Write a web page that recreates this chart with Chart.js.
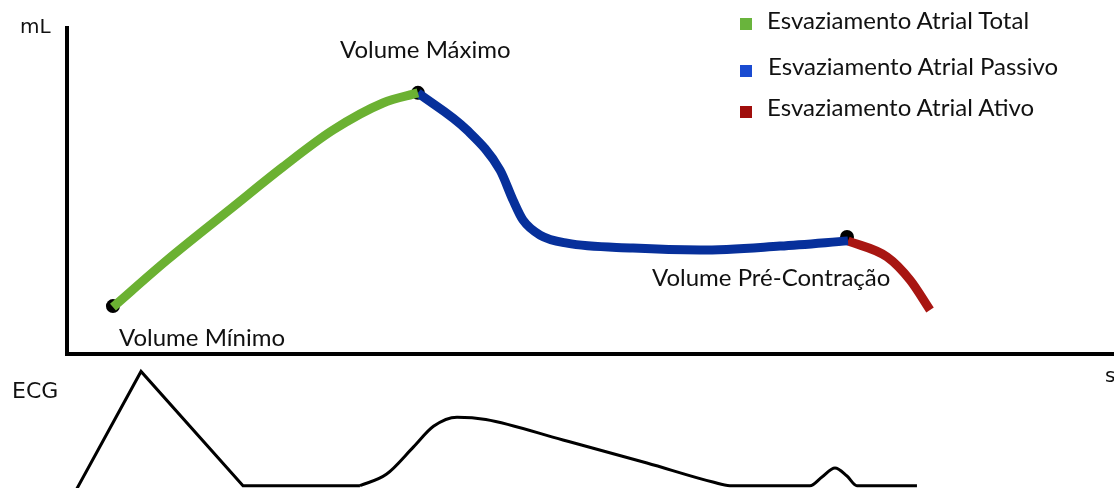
<!DOCTYPE html>
<html lang="pt">
<head>
<meta charset="utf-8">
<title>Volume atrial e ECG</title>
<script src="https://cdn.jsdelivr.net/npm/chart.js@4/dist/chart.umd.min.js"></script>
<style>
  html, body { margin: 0; padding: 0; background: #fff; }
  #wrap { position: relative; width: 1114px; height: 488px; overflow: hidden; }
  #volChart { position: absolute; left: 0; top: 0; }
  #ecgChart { position: absolute; left: 0; top: 360px; }
  .lbl { position: absolute; white-space: nowrap; line-height: 1; color: #111; }
  .gill { font-family: Lato, "Open Sans", sans-serif; font-size: 24px; }
  .axis { font-family: "DejaVu Sans", sans-serif; font-size: 20px; }
  .sw { position: absolute; width: 12px; height: 12px; }
</style>
</head>
<body>
<div id="wrap">
  <canvas id="volChart" width="1114" height="360"></canvas>
  <canvas id="ecgChart" width="1114" height="128"></canvas>
</div>
<script>
(function () {
  "use strict";

  /* ── Data: time in ms (0–1000), volume in mL (0–100), ECG in mV ── */
  const totalX   = [43.9, 95.5, 158.5, 206.3, 254.1, 301.8, 335.2];
  const totalY   = [14.4, 28.8, 45.1, 57.4, 68.7, 77.0, 80.1];

  const passivoX = [335.2, 382.0, 413.6, 426.0, 435.5, 451.8, 477.6, 540.6, 604.6, 681.0, 745.9];
  const passivoY = [80.1, 68.7, 56.4, 47.2, 41.1, 36.5, 34.0, 32.5, 31.9, 33.1, 34.7];

  const ativoX   = [745.9, 783.2, 805.2, 824.3];
  const ativoY   = [34.7, 29.8, 22.7, 13.5];

  const markX    = [43.9, 335.2, 745.0];
  const markY    = [14.7, 80.1, 35.9];

  const qrsX     = [8.6, 70.7, 168.1, 279.8];
  const qrsY     = [-0.04, 1.0, 0, 0];

  const wavesX   = [279.8, 305.0, 331.0, 350.0, 372.5, 400.0, 473.7, 553.9, 616.9, 633.2, 709.6, 721.1, 733.5, 745.0, 754.5, 811.8];
  const wavesY   = [0, 0.10, 0.34, 0.52, 0.60, 0.58, 0.40, 0.199, 0.032, 0, 0, 0.076, 0.155, 0.085, 0, 0];

  const seriesNames  = ["Esvaziamento Atrial Total", "Esvaziamento Atrial Passivo", "Esvaziamento Atrial Ativo"];
  const markerNames  = ["Volume Mínimo", "Volume Máximo", "Volume Pré-Contração"];

  /* ── Colors ─────────────────────────────────────────────────── */
  const green = "#6bb132";
  const blue  = "#07309b";
  const red   = "#a81612";
  const legendColors = ["#69b43c", "#1a4bd1", "#a00e0c"];

  const pts = (xs, ys) => xs.map((x, i) => ({ x, y: ys[i] }));

  const curve = (label, xs, ys, color) => ({
    label,
    data: pts(xs, ys),
    borderColor: color,
    backgroundColor: color,
    borderWidth: 9,
    pointRadius: 0,
    cubicInterpolationMode: "monotone",
    order: 1,
  });

  const hiddenScale = (min, max) => ({ type: "linear", display: false, min, max });

  new Chart(document.getElementById("volChart"), {
    type: "line",
    data: {
      datasets: [
        curve(seriesNames[0], totalX, totalY, green),
        curve(seriesNames[1], passivoX, passivoY, blue),
        curve(seriesNames[2], ativoX, ativoY, red),
        {
          type: "scatter",
          label: "marcos",
          data: pts(markX, markY),
          pointRadius: 7,
          pointBackgroundColor: "#000",
          pointBorderWidth: 0,
          order: 5,
        },
      ],
    },
    options: {
      responsive: false,
      animation: false,
      events: [],
      layout: { autoPadding: false, padding: { left: 67, top: 28, right: 0, bottom: 6 } },
      plugins: { legend: { display: false }, tooltip: { enabled: false } },
      scales: {
        x: {
          type: "linear", min: 0, max: 1000,
          grid: { display: false, drawTicks: false },
          ticks: { display: false },
          border: { display: true, color: "#000", width: 4 },
        },
        y: {
          type: "linear", min: 0, max: 100,
          grid: { display: false, drawTicks: false },
          ticks: { display: false },
          border: { display: true, color: "#000", width: 4 },
        },
      },
    },
  });

  const ecgLine = (xs, ys, smooth) => ({
    label: "ECG",
    data: pts(xs, ys),
    borderColor: "#000",
    borderWidth: 3,
    pointRadius: 0,
    tension: 0,
    cubicInterpolationMode: smooth ? "monotone" : "default",
    borderJoinStyle: "miter",
  });

  new Chart(document.getElementById("ecgChart"), {
    type: "line",
    data: { datasets: [ecgLine(qrsX, qrsY, false), ecgLine(wavesX, wavesY, true)] },
    options: {
      responsive: false,
      animation: false,
      events: [],
      layout: { autoPadding: false, padding: { left: 67, top: 0, right: 0, bottom: 0 } },
      plugins: { legend: { display: false }, tooltip: { enabled: false } },
      scales: { x: hiddenScale(0, 1000), y: hiddenScale(-0.02, 1.1) },
    },
  });

  /* ── Text: legend, annotations, axis names ─────────────────── */
  const wrap = document.getElementById("wrap");
  const addText = (text, cls, left, baseline, k) => {
    const el = document.createElement("div");
    el.className = "lbl " + cls;
    el.textContent = text;
    el.style.left = left + "px";
    wrap.appendChild(el);
    const size = parseFloat(getComputedStyle(el).fontSize);
    el.style.top = (baseline - size * k) + "px";
    return el;
  };
  const GK = 0.887;  // Lato baseline offset at line-height 1
  const DK = 0.846;  // DejaVu Sans baseline offset at line-height 1

  const legendTop   = [18, 65, 106];
  const legendBase  = [29.5, 75.5, 116];
  const legendLeft  = [767, 768, 767];
  seriesNames.forEach((name, i) => {
    const sw = document.createElement("div");
    sw.className = "sw";
    sw.style.left = "740px";
    sw.style.top = legendTop[i] + "px";
    sw.style.background = legendColors[i];
    wrap.appendChild(sw);
    addText(name, "gill", legendLeft[i], legendBase[i], GK);
  });

  addText(markerNames[0], "gill", 119, 346, GK);
  addText(markerNames[1], "gill", 340, 58, GK);
  addText(markerNames[2], "gill", 652, 286, GK);

  addText("mL", "axis", 20, 33, DK);
  const ecgLbl = addText("ECG", "axis", 12, 399, DK);
  ecgLbl.style.fontSize = "22px";
  ecgLbl.style.top = (399 - 22 * DK) + "px";
  addText("s", "axis", 1105, 382, DK);
})();
</script>
</body>
</html>
